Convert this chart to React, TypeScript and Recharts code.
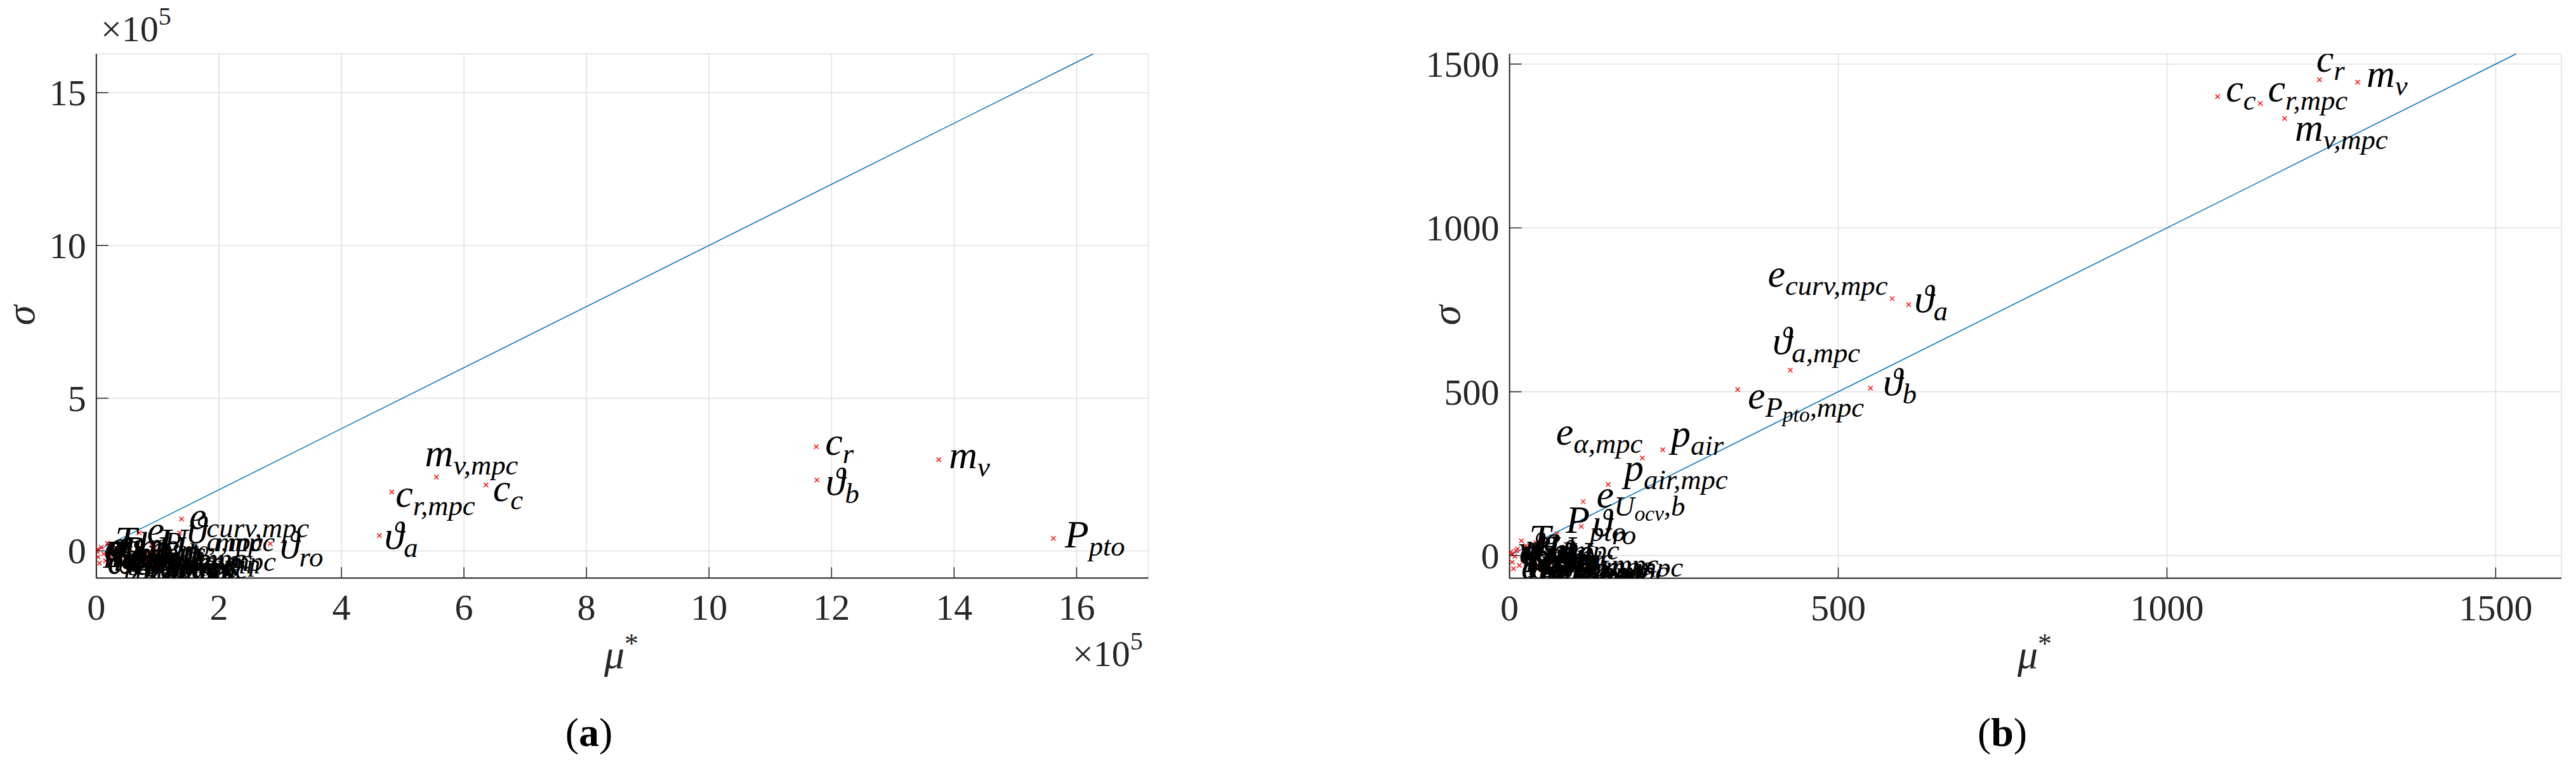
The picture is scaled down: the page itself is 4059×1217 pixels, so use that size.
import React from "react";
import { CartesianGrid, ReferenceLine, Scatter, ScatterChart, XAxis, YAxis } from "recharts";

// (a) mu* and sigma, in units of 1e5
const labelsA = [
  "c_{r}", "\u03D1_{b}", "m_{v}", "P_{pto}", "m_{v,mpc}", "c_{c}", "c_{r,mpc}", "\u03D1_{a}", "\u03D1_{ro}",
  "e_{curv,mpc}", "e_{P_{pto},mpc}", "\u03D1_{a,mpc}", "p_{air,in}",
  "e_{\u03B1}", "p_{air}", "\u03D1_{b,mpc}", "e_{U_{ocv},b}", "P_{pto,mpc}", "e_{P_{pto}}", "s_{b}",
  "e_{curv}", "\u03D1_{ro,mpc}", "p_{air,mpc}", "e_{\u03B1,mpc}", "U_{b}", "v_{x}", "\u03BA_{curv}",
  "T_{b}", "e_{v}", "i_{b}", "\u03C9_{pto}", "q_{air}", "e_{\u03D1,a}", "h_{ro}", "p_{air,out}",
  "s_{b,mpc}", "U_{ocv,mpc}", "i_{b,mpc}", "T_{b,mpc}", "\u03C9_{pto,mpc}", "e_{v,mpc}",
];
const muA = [
  11.75, 11.76, 13.75, 15.62, 5.55, 6.36, 4.82, 4.62, 2.84,
  1.39, 0.7, 1.36, 1.27,
  0.0, 0.02, 0.12, 0.2, 0.3, 0.35, 0.45, 0.5, 0.6, 0.72, 0.8, 0.9, 1.0, 0.01,
  0.03, 0.08, 0.15, 0.22, 0.28, 0.4, 0.55, 0.65,
  0.75, 0.85, 1.05, 0.18, 0.05, 0.95,
];
const sigmaA = [
  3.41, 2.32, 2.99, 0.41, 2.42, 2.16, 1.93, 0.5, 0.23,
  1.04, 0.59, 0.59, -0.14,
  0.0, 0.05, -0.1, 0.15, -0.05, -0.3, 0.1, -0.45, -0.2, 0.0, -0.35, 0.2, -0.1, -0.02,
  -0.2, 0.12, -0.32, -0.15, 0.05, -0.25, 0.08, -0.4,
  -0.22, -0.05, -0.3, 0.25, -0.4, 0.05,
];

// (b) mu* and sigma
const labelsB = [
  "c_{r}", "m_{v}", "c_{c}", "c_{r,mpc}", "m_{v,mpc}", "\u03D1_{a}", "e_{curv,mpc}", "\u03D1_{a,mpc}",
  "e_{P_{pto},mpc}", "\u03D1_{b}", "p_{air}", "e_{\u03B1,mpc}", "p_{air,mpc}", "e_{U_{ocv},b}", "P_{pto}", "\u03D1_{ro}",
  "e_{\u03B1}", "\u03D1_{b,mpc}", "p_{air,in}", "e_{curv}", "s_{b}", "U_{b}", "P_{pto,mpc}", "e_{P_{pto}}",
  "\u03D1_{ro,mpc}", "e_{U_{ocv}}", "v_{x}", "\u03BA_{curv}",
  "T_{b}", "e_{v}", "i_{b}", "\u03C9_{pto}", "q_{air}", "e_{\u03D1,a}", "h_{ro}", "p_{air,out}",
  "s_{b,mpc}", "U_{ocv,mpc}", "i_{b,mpc}", "T_{b,mpc}", "\u03C9_{pto,mpc}", "e_{v,mpc}",
];
const muB = [
  1232, 1290, 1077, 1142, 1179, 607, 582, 427,
  347, 549, 233, 202, 150, 112, 72, 109,
  3, 12, 20, 25, 35, 45, 55, 40,
  57, 80, 2, 8,
  4, 10, 15, 22, 28, 32, 48, 52,
  62, 70, 85, 18, 6, 90,
];
const sigmaB = [
  1452, 1445, 1401, 1380, 1334, 766, 784, 566,
  507, 511, 323, 298, 217, 165, 66, 89,
  5, 20, -10, 30, -35, 10, -20, 40,
  -4, -15, 12, -2,
  -20, 15, -30, -12, 5, -25, 8, -38,
  -22, -8, -30, 45, -40, 2,
];

const ticksAX = [0, 2, 4, 6, 8, 10, 12, 14, 16];
const ticksAY = [0, 5, 10, 15];
const ticksBX = [0, 500, 1000, 1500];
const ticksBY = [0, 500, 1000, 1500];

// label placement relative to the marker, px [dx, dy]
const shiftA: Record<string, [number, number]> = {
  "c_{r}": [14, 13],
  "\u03D1_{b}": [14, 23],
  "m_{v}": [16, 14],
  "P_{pto}": [18, 14],
  "m_{v,mpc}": [-18, -17],
  "c_{r,mpc}": [6, 23],
  "c_{c}": [11, 26],
  "\u03D1_{a}": [8, 21],
  "\u03D1_{ro}": [15, 23],
};
const shiftB: Record<string, [number, number]> = {
  "c_{r}": [-5, -13],
  "m_{v}": [14, 8],
  "c_{c}": [13, 8],
  "c_{r,mpc}": [12, -3],
  "m_{v,mpc}": [16, 35],
  "\u03D1_{a}": [9, 12],
  "e_{curv,mpc}": [-196, -19],
  "\u03D1_{a,mpc}": [-28, -25],
  "e_{P_{pto},mpc}": [16, 30],
  "\u03D1_{b}": [20, 11],
  "p_{air}": [13, -5],
  "e_{\u03B1,mpc}": [-136, -21],
  "p_{air,mpc}": [25, -6],
  "e_{U_{ocv},b}": [21, 9],
  "P_{pto}": [14, -2],
  "\u03D1_{ro}": [18, 15],
};

const SERIF = "'Liberation Serif', 'DejaVu Serif', serif";
const AXIS = "#262626";
const LABEL_SIZE = 62;

type Seg = { text: string; level: number };

function parseTex(s: string, level = 0): Seg[] {
  const out: Seg[] = [];
  let buf = "";
  let i = 0;
  while (i < s.length) {
    const c = s[i];
    if (c === "_") {
      if (buf) out.push({ text: buf, level });
      buf = "";
      if (s[i + 1] === "{") {
        let depth = 0;
        let j = i + 1;
        for (; j < s.length; j++) {
          if (s[j] === "{") depth++;
          else if (s[j] === "}") {
            depth--;
            if (depth === 0) break;
          }
        }
        out.push(...parseTex(s.slice(i + 2, j), level + 1));
        i = j + 1;
      } else {
        out.push({ text: s[i + 1], level: level + 1 });
        i += 2;
      }
    } else {
      buf += c;
      i++;
    }
  }
  if (buf) out.push({ text: buf, level });
  return out;
}

const levelSize = [1, 0.72, 0.54];
const levelShift = [0, 13, 21];

function TexText({ x, y, tex }: { x: number; y: number; tex: string }) {
  const segs = parseTex(tex);
  let prev = 0;
  return (
    <text x={x} y={y} fontFamily={SERIF} fontStyle="italic" fill="#000">
      {segs.map((s, k) => {
        const dy = levelShift[s.level] - levelShift[prev];
        prev = s.level;
        return (
          <tspan key={k} dy={dy} fontSize={LABEL_SIZE * levelSize[s.level]}>
            {s.text}
          </tspan>
        );
      })}
    </text>
  );
}

function Cross(props: any) {
  const { cx, cy } = props;
  if (cx == null || cy == null) return null;
  return (
    <g stroke="#ff0000" strokeWidth={1.4}>
      <line x1={cx - 3.5} y1={cy - 3.5} x2={cx + 3.5} y2={cy + 3.5} />
      <line x1={cx - 3.5} y1={cy + 3.5} x2={cx + 3.5} y2={cy - 3.5} />
    </g>
  );
}

function makeLabel(shift: Record<string, [number, number]>) {
  return (props: any) => {
    const { cx, cy, payload } = props;
    if (cx == null || cy == null) return null;
    const [dx, dy] = shift[payload.label] ?? [12, 16];
    return <TexText x={cx + dx} y={cy + dy} tex={payload.label} />;
  };
}

function XTick(props: any) {
  const { x, y, payload } = props;
  return (
    <g>
      <line x1={x} y1={y} x2={x} y2={y - 17} stroke={AXIS} strokeWidth={1.5} />
      <text x={x} y={y + 66} textAnchor="middle" fontFamily={SERIF} fontSize={58} fill={AXIS}>
        {payload.value}
      </text>
    </g>
  );
}

function YTick(props: any) {
  const { x, y, payload } = props;
  return (
    <g>
      <line x1={x} y1={y} x2={x + 19} y2={y} stroke={AXIS} strokeWidth={1.5} />
      <text x={x - 16} y={y + 20} textAnchor="end" fontFamily={SERIF} fontSize={58} fill={AXIS}>
        {payload.value}
      </text>
    </g>
  );
}

type PanelProps = {
  left: number;
  width: number;
  margin: { top: number; right: number; bottom: number; left: number };
  labels: string[];
  mu: number[];
  sigma: number[];
  xDomain: [number, number];
  yDomain: [number, number];
  xTicks: number[];
  yTicks: number[];
  shift: Record<string, [number, number]>;
};

function Panel(p: PanelProps) {
  const data = p.labels.map((label, i) => ({ label, x: p.mu[i], y: p.sigma[i] }));
  const top = p.yDomain[1];
  return (
    <div style={{ position: "absolute", left: p.left, top: 0 }}>
      <ScatterChart width={p.width} height={1217} margin={p.margin}>
        <CartesianGrid stroke="#e0e0e0" strokeWidth={1.5} />
        <XAxis
          type="number"
          dataKey="x"
          domain={p.xDomain}
          ticks={p.xTicks}
          allowDataOverflow
          height={100}
          tickLine={false}
          tickSize={0}
          tickMargin={0}
          tick={<XTick />}
          axisLine={{ stroke: AXIS, strokeWidth: 2 }}
        />
        <YAxis
          type="number"
          dataKey="y"
          domain={p.yDomain}
          ticks={p.yTicks}
          allowDataOverflow
          width={100}
          tickLine={false}
          tickSize={0}
          tickMargin={0}
          tick={<YTick />}
          axisLine={{ stroke: AXIS, strokeWidth: 2 }}
        />
        <ReferenceLine
          segment={[
            { x: 0, y: 0 },
            { x: top, y: top },
          ]}
          stroke="#0072BD"
          strokeWidth={1.5}
        />
        <Scatter data={data} shape={<Cross />} isAnimationActive={false} />
        <Scatter data={data} shape={makeLabel(p.shift)} isAnimationActive={false} />
      </ScatterChart>
    </div>
  );
}

export default function App() {
  return (
    <div style={{ position: "absolute", left: 0, top: 0, width: 4059, height: 1217, background: "#fff" }}>
      <Panel
        left={0}
        width={1900}
        margin={{ top: 85, right: 90.6, bottom: 205.7, left: 51.8 }}
        labels={labelsA}
        mu={muA}
        sigma={sigmaA}
        xDomain={[0, 17.17]}
        yDomain={[-0.89, 16.27]}
        xTicks={ticksAX}
        yTicks={ticksAY}
        shift={shiftA}
      />
      <Panel
        left={2200}
        width={1859}
        margin={{ top: 85, right: 23, bottom: 205.5, left: 78.6 }}
        labels={labelsB}
        mu={muB}
        sigma={sigmaB}
        xDomain={[0, 1600]}
        yDomain={[-69, 1531]}
        xTicks={ticksBX}
        yTicks={ticksBY}
        shift={shiftB}
      />
      <svg
        width={4059}
        height={1217}
        style={{ position: "absolute", left: 0, top: 0, pointerEvents: "none" }}
        fontFamily={SERIF}
        fill={AXIS}
      >
        <text x={159} y={65} fontSize={58}>
          {"\u00D710"}
          <tspan fontSize={40} dy={-26}>5</tspan>
        </text>
        <text x={1690} y={1050} fontSize={58}>
          {"\u00D710"}
          <tspan fontSize={40} dy={-26}>5</tspan>
        </text>
        <text transform="translate(54,497) rotate(-90)" textAnchor="middle" fontSize={64} fontStyle="italic">
          {"\u03C3"}
        </text>
        <text transform="translate(2300,497) rotate(-90)" textAnchor="middle" fontSize={64} fontStyle="italic">
          {"\u03C3"}
        </text>
        <text x={979} y={1053} textAnchor="middle" fontSize={64} fontStyle="italic">
          {"\u03BC"}
          <tspan fontSize={44} dy={-24} fontStyle="normal">*</tspan>
        </text>
        <text x={3206} y={1053} textAnchor="middle" fontSize={64} fontStyle="italic">
          {"\u03BC"}
          <tspan fontSize={44} dy={-24} fontStyle="normal">*</tspan>
        </text>
        <text x={928} y={1176} textAnchor="middle" fontSize={64} fill="#000">
          (<tspan fontWeight="bold">a</tspan>)
        </text>
        <text x={3155} y={1176} textAnchor="middle" fontSize={64} fill="#000">
          (<tspan fontWeight="bold">b</tspan>)
        </text>
      </svg>
    </div>
  );
}
